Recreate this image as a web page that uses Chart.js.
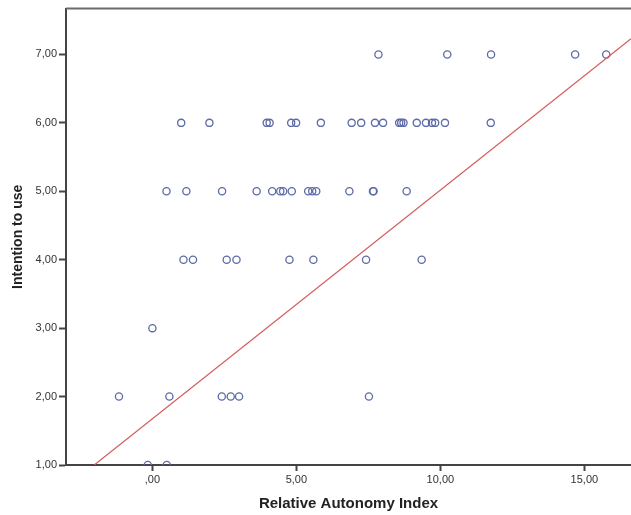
<!DOCTYPE html>
<html>
<head>
<meta charset="utf-8">
<script src="https://cdn.jsdelivr.net/npm/chart.js@4.4.0/dist/chart.umd.min.js"></script>
<style>
    body { margin: 0; background: #fff; }
    canvas { display: block; }
</style>
</head>
<body>
<canvas id="scatterChart" width="631" height="515"></canvas>
<script>
// Relative Autonomy Index (x) vs Intention to use (y)
const autonomyIndex = [
    7.85, 10.24, 11.76, 14.68, 15.76,
    1.00, 1.98, 3.97, 4.07, 4.82, 4.99, 5.85, 6.92, 7.25, 7.73, 8.01, 8.57, 8.64, 8.72, 9.18, 9.50, 9.71, 9.82, 10.16, 11.75,
    0.49, 1.18, 2.42, 3.62, 4.16, 4.44, 4.54, 4.84, 5.41, 5.55, 5.69, 6.84, 7.66, 7.68, 8.83,
    1.08, 1.41, 2.58, 2.92, 4.76, 5.59, 7.42, 9.35,
    0.00,
    -1.16, 0.59, 2.41, 2.72, 3.01, 7.52,
    -0.16, 0.50
];
const intention = [
    7, 7, 7, 7, 7,
    6, 6, 6, 6, 6, 6, 6, 6, 6, 6, 6, 6, 6, 6, 6, 6, 6, 6, 6, 6,
    5, 5, 5, 5, 5, 5, 5, 5, 5, 5, 5, 5, 5, 5, 5,
    4, 4, 4, 4, 4, 4, 4, 4,
    3,
    2, 2, 2, 2, 2, 2,
    1, 1
];

// fit line end points
const fitX = [-2.02, 16.62];
const fitY = [1.00, 7.23];

const xTickValues = [0, 5, 10, 15];
const xTickLabels = [',00', '5,00', '10,00', '15,00'];
const yTickValues = [1, 2, 3, 4, 5, 6, 7];
const yTickLabels = ['1,00', '2,00', '3,00', '4,00', '5,00', '6,00', '7,00'];

const points = autonomyIndex.map((x, i) => ({ x: x, y: intention[i] }));
const fitPoints = fitX.map((x, i) => ({ x: x, y: fitY[i] }));

Chart.defaults.font.family = '"Liberation Sans", Arial, sans-serif';
Chart.defaults.color = '#333';

// top frame line
const frameTop = {
    id: 'frameTop',
    afterDraw(chart) {
        const { ctx, chartArea } = chart;
        ctx.save();
        ctx.strokeStyle = '#6a6a6a';
        ctx.lineWidth = 2;
        ctx.beginPath();
        ctx.moveTo(chartArea.left, chartArea.top);
        ctx.lineTo(chartArea.right, chartArea.top);
        ctx.stroke();
        ctx.restore();
    }
};

const ctx = document.getElementById('scatterChart').getContext('2d');
const scatterChart = new Chart(ctx, {
    type: 'scatter',
    data: {
        datasets: [{
            label: 'Fit',
            data: fitPoints,
            showLine: true,
            borderColor: '#d65a5a',
            borderWidth: 1.2,
            pointRadius: 0,
            fill: false
        }, {
            label: 'Observed',
            data: points,
            pointStyle: 'circle',
            pointRadius: 3.6,
            pointBorderWidth: 1.3,
            borderColor: '#5d6ba6',
            backgroundColor: 'rgba(0,0,0,0)',
            clip: 0
        }]
    },
    options: {
        responsive: false,
        animation: false,
        layout: { autoPadding: false, padding: { top: 8, left: 0, right: 0, bottom: 0 } },
        plugins: {
            legend: { display: false },
            tooltip: { enabled: false }
        },
        scales: {
            x: {
                type: 'linear',
                min: -3.0,
                max: 16.62,
                afterFit: (scale) => { scale.height = 50; },
                afterBuildTicks: (scale) => {
                    scale.ticks = xTickValues.map(v => ({ value: v }));
                },
                ticks: {
                    padding: 2,
                    font: { size: 11 },
                    callback: (value) => xTickLabels[xTickValues.indexOf(value)]
                },
                grid: {
                    drawOnChartArea: false,
                    tickLength: 6,
                    tickWidth: 2,
                    tickColor: '#444'
                },
                border: { display: true, color: '#444', width: 2 },
                title: {
                    display: true,
                    text: 'Relative Autonomy Index',
                    font: { size: 15, weight: 'bold' },
                    color: '#222',
                    padding: { top: 0, bottom: 2 }
                }
            },
            y: {
                type: 'linear',
                min: 1,
                max: 7.67,
                afterFit: (scale) => { scale.width = 66; },
                afterBuildTicks: (scale) => {
                    scale.ticks = yTickValues.map(v => ({ value: v }));
                },
                ticks: {
                    padding: 2,
                    font: { size: 11 },
                    callback: (value) => yTickLabels[yTickValues.indexOf(value)]
                },
                grid: {
                    drawOnChartArea: false,
                    tickLength: 7,
                    tickWidth: 2,
                    tickColor: '#444'
                },
                border: { display: true, color: '#444', width: 2 },
                title: {
                    display: true,
                    text: 'Intention to use',
                    font: { size: 14, weight: 'bold' },
                    color: '#222',
                    padding: { top: 10, bottom: 0 }
                }
            }
        }
    },
    plugins: [frameTop]
});
</script>
</body>
</html>
